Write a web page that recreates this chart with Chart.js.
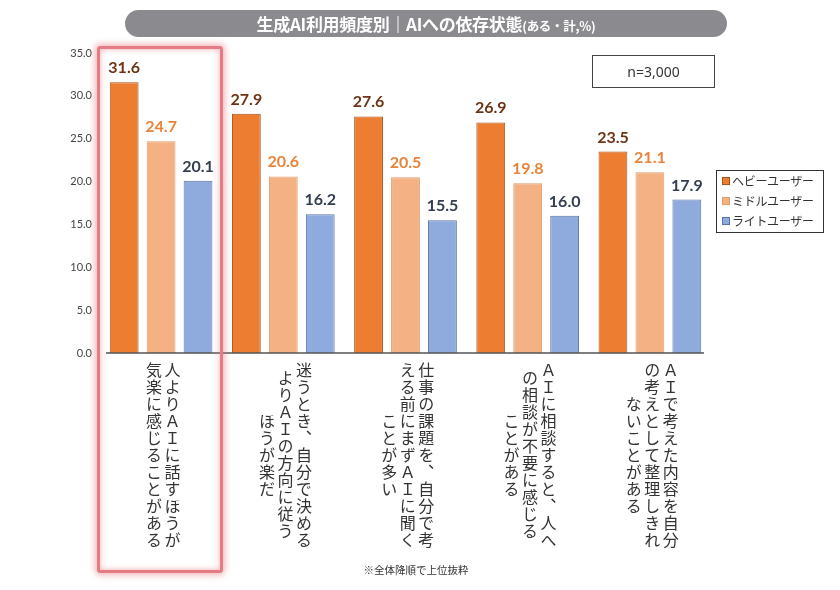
<!DOCTYPE html>
<html lang="ja">
<head>
<meta charset="utf-8">
<script src="https://cdn.jsdelivr.net/npm/chart.js@4"></script>
<style>
  body { margin: 0; background: #fff; }
  #wrap { position: relative; width: 840px; height: 590px; overflow: hidden; font-family: "Noto Sans CJK JP", sans-serif; }
  #chart { position: absolute; left: 0; top: 0; }
  .title {
    position: absolute; left: 125px; top: 10px; width: 602px; height: 27px;
    background: #8b8b8f; border-radius: 14px; color: #fff; text-align: center;
    font-weight: bold; font-size: 17px; line-height: 27px; letter-spacing: -0.3px;
  }
  .title small { font-size: 12.5px; font-weight: bold; }
  .nbox {
    position: absolute; left: 592px; top: 55px; width: 121px; height: 31px;
    border: 1px solid #444; text-align: center; line-height: 31px;
    font-family: "Noto Sans", sans-serif; font-size: 14px; color: #333;
  }
  .legend {
    position: absolute; left: 716px; top: 170px; width: 106px; height: 61px;
    border: 1px solid #333; font-size: 12px; color: #333;
  }
  .legend div { height: 20px; line-height: 20px; padding-left: 5px; white-space: nowrap; letter-spacing: -0.3px; }
  .legend span { display: inline-block; width: 6px; height: 6px; margin-right: 2px; vertical-align: 1px; border: 1px solid; }
  .xlab {
    position: absolute; top: 361px; height: 188px; writing-mode: vertical-rl; transform: translateX(-50%);
    text-align: center; font-size: 16px; line-height: 18.5px; letter-spacing: 1px; color: #333; white-space: pre;
  }
  .hl {
    position: absolute; top: 46px; height: 521px; width: 120px;
    border: 3px solid #e57c84; border-radius: 3px;
    box-shadow: 0 0 6px 2px rgba(230, 110, 120, 0.5), inset 0 0 5px 1px rgba(230, 110, 120, 0.45);
    pointer-events: none;
  }
  .note { position: absolute; left: 0; width: 832px; top: 562px; text-align: center; font-size: 10.5px; color: #333; }
</style>
</head>
<body>
<div id="wrap">
  <canvas id="chart" width="840" height="590"></canvas>
  <div class="title">生成AI利用頻度別｜AIへの依存状態<small>(ある・計,%)</small></div>
  <div class="nbox">n=3,000</div>
  <div class="legend" id="legend"></div>
  <div class="note">※全体降順で上位抜粋</div>
</div>
<script>
const categories = [
    '人よりＡＩに話すほうが\n気楽に感じることがある',
    '迷うとき、自分で決める\nよりＡＩの方向に従う\nほうが楽だ',
    '仕事の課題を、自分で考\nえる前にまずＡＩに聞く\nことが多い',
    'ＡＩに相談すると、人へ\nの相談が不要に感じる\nことがある',
    'ＡＩで考えた内容を自分\nの考えとして整理しきれ\nないことがある'
];
const seriesNames = ['ヘビーユーザー', 'ミドルユーザー', 'ライトユーザー'];
const heavyUsers = [31.6, 27.9, 27.6, 26.9, 23.5];
const middleUsers = [24.7, 20.6, 20.5, 19.8, 21.1];
const lightUsers = [20.1, 16.2, 15.5, 16.0, 17.9];
const yTicks = [0, 5, 10, 15, 20, 25, 30, 35];

const fills = ['#ED7D31', '#F4B183', '#8FAADC'];
const borders = ['#A9541C', '#E39A6A', '#5C74A3'];
const labelColors = ['#6B3414', '#E8843A', '#333F50'];

// --- value labels above bars ---
const valueLabels = {
    id: 'valueLabels',
    afterDatasetsDraw(chart) {
        const ctx = chart.ctx;
        ctx.save();
        ctx.font = 'bold 16px Lato, sans-serif';
        ctx.textAlign = 'center';
        ctx.textBaseline = 'alphabetic';
        chart.data.datasets.forEach((ds, i) => {
            chart.getDatasetMeta(i).data.forEach((bar, j) => {
                ctx.fillStyle = labelColors[i];
                ctx.fillText(ds.data[j].toFixed(1), bar.x, bar.y - 9);
            });
        });
        // x axis line
        const a = chart.chartArea;
        const y0 = chart.scales.y.getPixelForValue(0);
        ctx.strokeStyle = '#555';
        ctx.lineWidth = 1.5;
        ctx.beginPath();
        ctx.moveTo(a.left + 6, y0);
        ctx.lineTo(a.right - 7, y0);
        ctx.stroke();
        ctx.restore();
    }
};

const chart = new Chart(document.getElementById('chart'), {
    type: 'bar',
    data: {
        labels: categories,
        datasets: [heavyUsers, middleUsers, lightUsers].map((d, i) => ({
            label: seriesNames[i],
            data: d,
            backgroundColor: fills[i],
            borderColor: borders[i],
            borderWidth: 1,
            barPercentage: 0.78,
            categoryPercentage: 0.907
        }))
    },
    options: {
        responsive: false,
        animation: false,
        layout: { padding: { top: 53, bottom: 237, right: 129, left: 0 } },
        plugins: { legend: { display: false }, tooltip: { enabled: false } },
        scales: {
            x: { display: false },
            y: {
                min: 0, max: 35,
                afterFit(scale) { scale.width = 100; },
                afterBuildTicks(scale) { scale.ticks = yTicks.map(v => ({ value: v })); },
                grid: { display: false, drawTicks: false },
                border: { display: false },
                ticks: {
                    padding: 8,
                    color: '#444',
                    font: { family: 'Lato, sans-serif', size: 11 },
                    callback: v => v.toFixed(1)
                }
            }
        }
    },
    plugins: [valueLabels]
});

// legend
const legend = document.getElementById('legend');
seriesNames.forEach((name, i) => {
    const row = document.createElement('div');
    row.innerHTML = '<span style="background:' + fills[i] + ';border-color:' + borders[i] + '"></span>' + name;
    legend.appendChild(row);
});

// category labels (vertical) + highlight frame
const wrap = document.getElementById('wrap');
categories.forEach((c, i) => {
    const x = chart.scales.x.getPixelForValue(i);
    const el = document.createElement('div');
    el.className = 'xlab';
    el.style.left = (x + 2) + 'px';
    el.textContent = c;
    wrap.appendChild(el);
    if (i === 0) {
        const hl = document.createElement('div');
        hl.className = 'hl';
        hl.style.left = (x - 64) + 'px';
        wrap.appendChild(hl);
    }
});
</script>
</body>
</html>
